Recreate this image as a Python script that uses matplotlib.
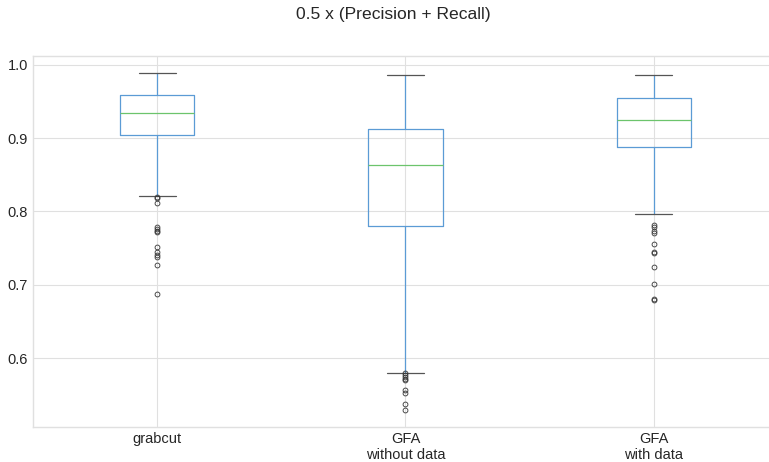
import matplotlib
matplotlib.use('Agg')
import matplotlib.pyplot as plt

TITLE = '0.5 x (Precision + Recall)'
labels = ['grabcut', 'GFA\nwithout data', 'GFA\nwith data']

# box statistics
whislo = [0.821, 0.580, 0.796]
q1 = [0.904, 0.780, 0.888]
med = [0.934, 0.864, 0.925]
q3 = [0.959, 0.913, 0.955]
whishi = [0.989, 0.986, 0.986]

fliers_grabcut = [0.820, 0.819, 0.811, 0.779, 0.776, 0.774, 0.772, 0.752,
                  0.744, 0.741, 0.738, 0.727, 0.688]
fliers_gfa_nodata = [0.579, 0.577, 0.574, 0.571, 0.570, 0.556, 0.552, 0.538, 0.529]
fliers_gfa_data = [0.782, 0.779, 0.774, 0.771, 0.756, 0.744, 0.743, 0.724,
                   0.701, 0.680, 0.679]
fliers = [fliers_grabcut, fliers_gfa_nodata, fliers_gfa_data]

plt.style.use('seaborn-v0_8-whitegrid')
plt.rcParams['font.family'] = ['Liberation Sans', 'DejaVu Sans']

fig = plt.figure(figsize=(7.69, 4.62), dpi=100)
ax = fig.add_axes([33 / 769, 35 / 462, (778 - 33) / 769, 371 / 462])

stats = []
for i in range(len(labels)):
    stats.append({'whislo': whislo[i], 'q1': q1[i], 'med': med[i], 'q3': q3[i],
                  'whishi': whishi[i], 'fliers': fliers[i], 'label': labels[i]})

ax.bxp(stats, positions=[1, 2, 3], widths=0.3,
       boxprops=dict(color='#5b9bd5', linewidth=0.9),
       whiskerprops=dict(color='#5b9bd5', linewidth=0.9),
       capprops=dict(color='#555555', linewidth=0.9),
       medianprops=dict(color='#6cc46c', linewidth=0.9),
       flierprops=dict(marker='o', markersize=3.5, markerfacecolor='none',
                       markeredgecolor='#333333', markeredgewidth=0.6))

ax.set_xlim(0.5, 3.5)
ax.set_ylim(0.506, 1.012)
ax.set_yticks([0.6, 0.7, 0.8, 0.9, 1.0])
ax.tick_params(labelsize=10.5, colors='#262626')
ax.grid(True, color='#e0e0e0', linewidth=0.8)
ax.xaxis.grid(True)
for s in ax.spines.values():
    s.set_color('#e0e0e0')

fig.suptitle(TITLE, fontsize=12.6, x=0.511, y=0.985, color='#262626')

fig.savefig('out.png', dpi=100)
